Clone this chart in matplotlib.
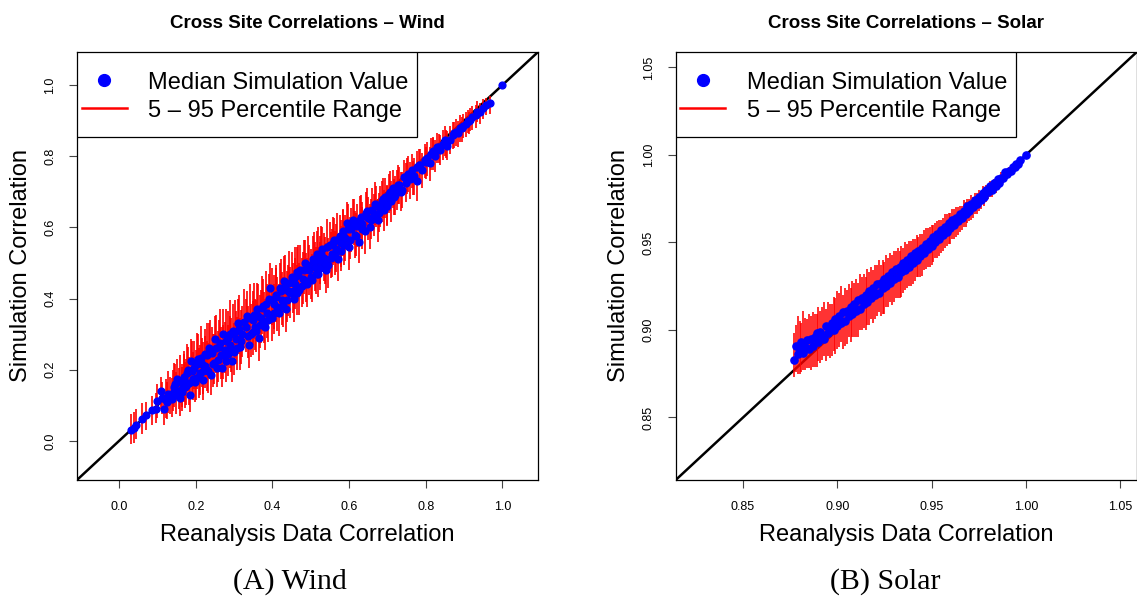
import matplotlib
matplotlib.use('Agg')
from matplotlib import pyplot as plt
from matplotlib.lines import Line2D
from matplotlib.patches import Rectangle

plt.rcParams['font.family'] = ['Liberation Sans', 'DejaVu Sans']

# wind: reanalysis correlation, median of simulations, 5th and 95th percentile
wind_x = [0.030, 0.038, 0.045, 0.060, 0.070, 0.085, 0.095, 0.100, 0.110, 0.112,
          0.118, 0.125, 0.133, 0.140, 0.145, 0.151, 0.155, 0.160, 0.165, 0.170,
          0.175, 0.180, 0.185, 0.188, 0.192, 0.195, 0.198, 0.205, 0.210, 0.216,
          0.220, 0.225, 0.230, 0.235, 0.240, 0.242, 0.248, 0.251, 0.255, 0.260,
          0.265, 0.268, 0.270, 0.275, 0.280, 0.285, 0.290, 0.294, 0.298, 0.300,
          0.305, 0.310, 0.315, 0.320, 0.330, 0.333, 0.338, 0.345, 0.350, 0.355,
          0.360, 0.365, 0.370, 0.375, 0.380, 0.385, 0.390, 0.394, 0.400, 0.405,
          0.410, 0.416, 0.420, 0.425, 0.430, 0.435, 0.440, 0.446, 0.450, 0.455,
          0.460, 0.465, 0.470, 0.473, 0.480, 0.485, 0.490, 0.495, 0.503, 0.505,
          0.510, 0.515, 0.520, 0.525, 0.530, 0.535, 0.540, 0.546, 0.550, 0.555,
          0.560, 0.565, 0.570, 0.575, 0.580, 0.585, 0.590, 0.595, 0.600, 0.605,
          0.610, 0.615, 0.620, 0.625, 0.630, 0.635, 0.642, 0.645, 0.650, 0.655,
          0.660, 0.665, 0.670, 0.675, 0.681, 0.685, 0.690, 0.695, 0.700, 0.705,
          0.710, 0.715, 0.720, 0.725, 0.730, 0.735, 0.742, 0.748, 0.755, 0.760,
          0.765, 0.770, 0.777, 0.777, 0.785, 0.790, 0.797, 0.803, 0.810, 0.815,
          0.820, 0.825, 0.830, 0.838, 0.845, 0.850, 0.855, 0.864, 0.870, 0.878,
          0.885, 0.890, 0.898, 0.905, 0.910, 0.916, 0.922, 0.930, 0.935, 0.942,
          0.950, 0.958, 0.968, 0.998]
wind_med = [0.030, 0.036, 0.044, 0.062, 0.072, 0.088, 0.090, 0.112, 0.140, 0.120,
            0.089, 0.110, 0.126, 0.135, 0.160, 0.173, 0.140, 0.120, 0.147, 0.180,
            0.155, 0.200, 0.130, 0.224, 0.175, 0.206, 0.164, 0.230, 0.190, 0.215,
            0.170, 0.245, 0.200, 0.260, 0.185, 0.248, 0.220, 0.285, 0.205, 0.265,
            0.240, 0.206, 0.300, 0.255, 0.225, 0.290, 0.270, 0.224, 0.310, 0.250,
            0.285, 0.330, 0.265, 0.300, 0.320, 0.350, 0.268, 0.300, 0.340, 0.320,
            0.370, 0.290, 0.345, 0.380, 0.320, 0.360, 0.400, 0.430, 0.345, 0.385,
            0.410, 0.360, 0.430, 0.395, 0.450, 0.370, 0.420, 0.416, 0.460, 0.400,
            0.440, 0.475, 0.425, 0.481, 0.455, 0.500, 0.440, 0.480, 0.453, 0.510,
            0.490, 0.525, 0.470, 0.505, 0.540, 0.515, 0.480, 0.495, 0.550, 0.525,
            0.565, 0.540, 0.510, 0.575, 0.555, 0.590, 0.570, 0.612, 0.545, 0.595,
            0.620, 0.580, 0.605, 0.560, 0.630, 0.610, 0.589, 0.640, 0.625, 0.600,
            0.650, 0.635, 0.660, 0.620, 0.659, 0.675, 0.650, 0.685, 0.665, 0.695,
            0.675, 0.710, 0.690, 0.706, 0.720, 0.700, 0.743, 0.725, 0.750, 0.735,
            0.760, 0.745, 0.771, 0.729, 0.775, 0.760, 0.790, 0.795, 0.780, 0.805,
            0.815, 0.800, 0.825, 0.818, 0.835, 0.845, 0.830, 0.846, 0.860, 0.868,
            0.865, 0.880, 0.885, 0.890, 0.900, 0.902, 0.910, 0.915, 0.925, 0.925,
            0.935, 0.945, 0.949, 1.000]
wind_lo = [-0.010, -0.005, 0.005, 0.020, 0.030, 0.045, 0.050, 0.065, 0.090, 0.075,
           0.045, 0.060, 0.075, 0.085, 0.110, 0.120, 0.090, 0.070, 0.095, 0.120,
           0.100, 0.140, 0.080, 0.160, 0.115, 0.145, 0.110, 0.165, 0.130, 0.150,
           0.115, 0.180, 0.140, 0.195, 0.130, 0.180, 0.160, 0.215, 0.150, 0.200,
           0.175, 0.150, 0.230, 0.190, 0.165, 0.225, 0.205, 0.165, 0.240, 0.185,
           0.215, 0.260, 0.200, 0.235, 0.250, 0.280, 0.205, 0.235, 0.270, 0.255,
           0.300, 0.225, 0.275, 0.310, 0.255, 0.290, 0.330, 0.360, 0.280, 0.315,
           0.340, 0.295, 0.360, 0.325, 0.380, 0.305, 0.350, 0.345, 0.390, 0.335,
           0.370, 0.405, 0.355, 0.410, 0.385, 0.430, 0.375, 0.410, 0.390, 0.445,
           0.420, 0.460, 0.405, 0.440, 0.475, 0.450, 0.415, 0.430, 0.485, 0.460,
           0.500, 0.475, 0.450, 0.510, 0.490, 0.525, 0.505, 0.550, 0.480, 0.530,
           0.560, 0.515, 0.545, 0.500, 0.570, 0.550, 0.525, 0.580, 0.565, 0.540,
           0.590, 0.575, 0.600, 0.560, 0.600, 0.615, 0.590, 0.625, 0.605, 0.640,
           0.615, 0.655, 0.635, 0.650, 0.665, 0.645, 0.690, 0.670, 0.700, 0.680,
           0.710, 0.690, 0.720, 0.675, 0.725, 0.710, 0.740, 0.745, 0.730, 0.760,
           0.770, 0.755, 0.780, 0.775, 0.790, 0.800, 0.790, 0.805, 0.820, 0.830,
           0.825, 0.840, 0.850, 0.855, 0.865, 0.870, 0.875, 0.880, 0.895, 0.890,
           0.905, 0.915, 0.920, 1.000]
wind_hi = [0.075, 0.080, 0.090, 0.105, 0.110, 0.125, 0.135, 0.160, 0.180, 0.165,
           0.140, 0.165, 0.180, 0.200, 0.215, 0.230, 0.205, 0.180, 0.215, 0.245,
           0.230, 0.265, 0.200, 0.285, 0.250, 0.280, 0.235, 0.300, 0.270, 0.290,
           0.240, 0.315, 0.280, 0.330, 0.255, 0.320, 0.300, 0.350, 0.280, 0.340,
           0.320, 0.280, 0.370, 0.335, 0.300, 0.365, 0.350, 0.300, 0.385, 0.330,
           0.365, 0.400, 0.345, 0.380, 0.400, 0.420, 0.345, 0.385, 0.420, 0.400,
           0.445, 0.370, 0.425, 0.455, 0.400, 0.440, 0.470, 0.500, 0.425, 0.465,
           0.485, 0.440, 0.500, 0.475, 0.520, 0.450, 0.495, 0.490, 0.530, 0.480,
           0.515, 0.545, 0.500, 0.550, 0.530, 0.565, 0.515, 0.550, 0.525, 0.575,
           0.560, 0.590, 0.545, 0.575, 0.600, 0.585, 0.555, 0.570, 0.615, 0.595,
           0.625, 0.610, 0.580, 0.635, 0.620, 0.650, 0.635, 0.670, 0.615, 0.655,
           0.680, 0.645, 0.665, 0.625, 0.690, 0.670, 0.650, 0.700, 0.685, 0.665,
           0.710, 0.695, 0.715, 0.680, 0.715, 0.730, 0.705, 0.740, 0.720, 0.750,
           0.730, 0.760, 0.745, 0.760, 0.770, 0.755, 0.790, 0.780, 0.800, 0.785,
           0.805, 0.795, 0.815, 0.780, 0.820, 0.810, 0.835, 0.840, 0.825, 0.850,
           0.855, 0.845, 0.865, 0.860, 0.875, 0.885, 0.870, 0.885, 0.895, 0.905,
           0.900, 0.915, 0.920, 0.925, 0.930, 0.935, 0.940, 0.945, 0.955, 0.950,
           0.960, 0.965, 0.970, 1.000]

# more wind sites in the crowded middle: x, median, distance down / up to the percentiles
wind_x_more = [0.122, 0.128, 0.137, 0.143, 0.148, 0.158, 0.163, 0.168, 0.173, 0.178,
               0.183, 0.190, 0.200, 0.203, 0.208, 0.213, 0.218, 0.223, 0.228, 0.233,
               0.238, 0.245, 0.253, 0.258, 0.263, 0.272, 0.278, 0.283, 0.288, 0.292,
               0.303, 0.308, 0.313, 0.318, 0.325, 0.335, 0.342, 0.348, 0.353, 0.358,
               0.363, 0.368, 0.373, 0.378, 0.383, 0.388, 0.398, 0.403, 0.408, 0.413,
               0.423, 0.428, 0.433, 0.438, 0.443, 0.453, 0.458, 0.463, 0.468, 0.478,
               0.483, 0.488, 0.493, 0.500, 0.508, 0.513, 0.518, 0.523, 0.528, 0.538,
               0.543, 0.553, 0.558, 0.563, 0.568, 0.578, 0.583, 0.588, 0.598, 0.603,
               0.613, 0.618, 0.628, 0.633, 0.648, 0.658, 0.668, 0.678, 0.688, 0.698,
               0.708, 0.718, 0.728, 0.738, 0.752, 0.768, 0.782, 0.800, 0.818, 0.834,
               0.852, 0.874, 0.894, 0.912]
wind_med_more = [0.115, 0.132, 0.118, 0.150, 0.128, 0.165, 0.138, 0.172, 0.150, 0.190,
                 0.162, 0.195, 0.178, 0.215, 0.180, 0.232, 0.196, 0.210, 0.240, 0.195,
                 0.250, 0.215, 0.262, 0.228, 0.275, 0.240, 0.280, 0.245, 0.300, 0.258,
                 0.305, 0.262, 0.315, 0.280, 0.335, 0.295, 0.345, 0.305, 0.355, 0.310,
                 0.350, 0.325, 0.372, 0.335, 0.385, 0.340, 0.395, 0.360, 0.405, 0.375,
                 0.420, 0.380, 0.435, 0.395, 0.445, 0.420, 0.460, 0.415, 0.465, 0.435,
                 0.480, 0.450, 0.495, 0.460, 0.505, 0.470, 0.520, 0.485, 0.525, 0.500,
                 0.545, 0.515, 0.555, 0.520, 0.565, 0.535, 0.580, 0.550, 0.595, 0.565,
                 0.610, 0.575, 0.620, 0.595, 0.645, 0.620, 0.665, 0.640, 0.680, 0.660,
                 0.700, 0.685, 0.720, 0.705, 0.745, 0.740, 0.775, 0.785, 0.810, 0.825,
                 0.840, 0.865, 0.880, 0.900]
wind_down_more = [0.050, 0.055, 0.050, 0.055, 0.052, 0.060, 0.055, 0.062, 0.058, 0.065,
                  0.060, 0.065, 0.062, 0.068, 0.060, 0.070, 0.065, 0.062, 0.070, 0.060,
                  0.072, 0.065, 0.070, 0.062, 0.072, 0.065, 0.070, 0.062, 0.075, 0.065,
                  0.072, 0.062, 0.070, 0.065, 0.075, 0.062, 0.072, 0.065, 0.070, 0.060,
                  0.068, 0.065, 0.072, 0.060, 0.070, 0.062, 0.068, 0.060, 0.070, 0.065,
                  0.068, 0.060, 0.070, 0.062, 0.068, 0.060, 0.070, 0.062, 0.065, 0.060,
                  0.068, 0.060, 0.065, 0.062, 0.065, 0.058, 0.065, 0.060, 0.062, 0.058,
                  0.065, 0.058, 0.062, 0.055, 0.062, 0.058, 0.060, 0.055, 0.060, 0.055,
                  0.060, 0.055, 0.058, 0.055, 0.058, 0.052, 0.058, 0.052, 0.055, 0.052,
                  0.055, 0.050, 0.055, 0.050, 0.052, 0.050, 0.050, 0.048, 0.048, 0.045,
                  0.045, 0.042, 0.040, 0.038]
wind_up_more = [0.060, 0.065, 0.060, 0.070, 0.065, 0.075, 0.070, 0.080, 0.072, 0.082,
                0.075, 0.085, 0.078, 0.088, 0.080, 0.090, 0.082, 0.085, 0.092, 0.080,
                0.090, 0.085, 0.092, 0.082, 0.095, 0.085, 0.090, 0.082, 0.095, 0.088,
                0.092, 0.085, 0.095, 0.088, 0.092, 0.085, 0.095, 0.088, 0.090, 0.085,
                0.092, 0.085, 0.090, 0.082, 0.092, 0.085, 0.090, 0.082, 0.088, 0.085,
                0.090, 0.080, 0.088, 0.082, 0.088, 0.080, 0.085, 0.080, 0.085, 0.078,
                0.085, 0.078, 0.082, 0.078, 0.082, 0.075, 0.080, 0.075, 0.078, 0.072,
                0.078, 0.072, 0.075, 0.070, 0.075, 0.068, 0.072, 0.068, 0.070, 0.065,
                0.070, 0.065, 0.068, 0.062, 0.065, 0.060, 0.062, 0.058, 0.060, 0.055,
                0.058, 0.052, 0.055, 0.050, 0.050, 0.048, 0.045, 0.042, 0.040, 0.038,
                0.035, 0.032, 0.030, 0.025]

# solar: reanalysis correlation, median, distance down / up to the 5th / 95th percentile
solar_x = [0.877, 0.878, 0.879, 0.880, 0.881, 0.882, 0.883, 0.884, 0.885, 0.886,
           0.887, 0.888, 0.889, 0.890, 0.891, 0.892, 0.893, 0.894, 0.895, 0.896,
           0.897, 0.898, 0.899, 0.900, 0.901, 0.902, 0.903, 0.904, 0.905, 0.906,
           0.907, 0.908, 0.909, 0.910, 0.911, 0.912, 0.913, 0.914, 0.915, 0.916,
           0.917, 0.918, 0.919, 0.920, 0.921, 0.922, 0.923, 0.924, 0.925, 0.926,
           0.927, 0.928, 0.929, 0.930, 0.931, 0.932, 0.933, 0.934, 0.935, 0.936,
           0.937, 0.938, 0.939, 0.940, 0.941, 0.942, 0.943, 0.944, 0.945, 0.946,
           0.947, 0.948, 0.949, 0.950, 0.951, 0.952, 0.953, 0.954, 0.955, 0.956,
           0.957, 0.958, 0.959, 0.960, 0.961, 0.962, 0.963, 0.964, 0.965, 0.966,
           0.967, 0.968, 0.969, 0.970, 0.971, 0.972, 0.973, 0.974, 0.975, 0.976,
           0.977, 0.978, 0.979, 0.980, 0.981, 0.982, 0.983, 0.984, 0.985, 0.986,
           0.987, 0.988, 0.989, 0.990, 0.991, 0.992, 0.993, 0.994, 0.995, 0.996,
           0.997, 1.000]
solar_med = [0.883, 0.891, 0.886, 0.889, 0.893, 0.887, 0.890, 0.894, 0.889, 0.895,
             0.891, 0.896, 0.898, 0.893, 0.899, 0.897, 0.895, 0.902, 0.898, 0.901,
             0.904, 0.900, 0.906, 0.902, 0.908, 0.904, 0.910, 0.905, 0.911, 0.908,
             0.913, 0.909, 0.915, 0.911, 0.917, 0.912, 0.918, 0.915, 0.920, 0.916,
             0.922, 0.918, 0.924, 0.920, 0.926, 0.921, 0.927, 0.924, 0.929, 0.925,
             0.931, 0.927, 0.933, 0.929, 0.935, 0.930, 0.936, 0.933, 0.938, 0.934,
             0.940, 0.936, 0.942, 0.938, 0.944, 0.940, 0.945, 0.942, 0.947, 0.944,
             0.949, 0.946, 0.951, 0.948, 0.953, 0.950, 0.955, 0.952, 0.957, 0.954,
             0.959, 0.956, 0.961, 0.958, 0.963, 0.960, 0.964, 0.962, 0.966, 0.964,
             0.968, 0.966, 0.971, 0.968, 0.972, 0.970, 0.974, 0.972, 0.976, 0.974,
             0.978, 0.976, 0.980, 0.979, 0.982, 0.980, 0.984, 0.982, 0.986, 0.984,
             0.987, 0.987, 0.990, 0.989, 0.991, 0.991, 0.993, 0.993, 0.995, 0.995,
             0.997, 1.000]
solar_down = [0.010, 0.015, 0.011, 0.014, 0.017, 0.010, 0.013, 0.016, 0.011, 0.018,
              0.012, 0.017, 0.019, 0.011, 0.018, 0.014, 0.010, 0.020, 0.013, 0.017,
              0.019, 0.012, 0.020, 0.013, 0.018, 0.011, 0.021, 0.014, 0.019, 0.012,
              0.020, 0.013, 0.019, 0.015, 0.021, 0.012, 0.018, 0.014, 0.020, 0.013,
              0.019, 0.012, 0.020, 0.014, 0.018, 0.011, 0.019, 0.015, 0.020, 0.012,
              0.018, 0.011, 0.019, 0.013, 0.017, 0.012, 0.018, 0.014, 0.017, 0.011,
              0.016, 0.011, 0.017, 0.012, 0.016, 0.010, 0.015, 0.012, 0.016, 0.010,
              0.014, 0.010, 0.015, 0.011, 0.014, 0.009, 0.014, 0.010, 0.013, 0.009,
              0.012, 0.008, 0.012, 0.009, 0.011, 0.008, 0.011, 0.008, 0.010, 0.007,
              0.009, 0.007, 0.010, 0.006, 0.009, 0.006, 0.008, 0.006, 0.008, 0.005,
              0.006, 0.005, 0.007, 0.004, 0.006, 0.004, 0.005, 0.004, 0.005, 0.003,
              0.004, 0.003, 0.004, 0.003, 0.003, 0.002, 0.003, 0.002, 0.002, 0.002,
              0.001, 0.000]
solar_up = [0.015, 0.012, 0.022, 0.016, 0.011, 0.024, 0.017, 0.012, 0.020, 0.013,
            0.019, 0.013, 0.011, 0.020, 0.012, 0.016, 0.021, 0.010, 0.018, 0.014,
            0.011, 0.019, 0.012, 0.020, 0.013, 0.021, 0.010, 0.019, 0.012, 0.018,
            0.011, 0.019, 0.012, 0.018, 0.010, 0.020, 0.012, 0.017, 0.010, 0.019,
            0.011, 0.018, 0.010, 0.017, 0.011, 0.019, 0.010, 0.016, 0.010, 0.018,
            0.010, 0.017, 0.010, 0.016, 0.010, 0.017, 0.009, 0.015, 0.009, 0.016,
            0.009, 0.015, 0.009, 0.014, 0.008, 0.014, 0.008, 0.013, 0.008, 0.013,
            0.009, 0.012, 0.008, 0.012, 0.007, 0.011, 0.007, 0.011, 0.006, 0.010,
            0.007, 0.010, 0.006, 0.009, 0.006, 0.009, 0.006, 0.008, 0.005, 0.007,
            0.006, 0.007, 0.004, 0.007, 0.005, 0.006, 0.004, 0.006, 0.004, 0.005,
            0.004, 0.005, 0.003, 0.004, 0.003, 0.004, 0.002, 0.003, 0.002, 0.003,
            0.003, 0.002, 0.002, 0.002, 0.002, 0.001, 0.001, 0.001, 0.001, 0.001,
            0.001, 0.000]

wind_ticks = [0.0, 0.2, 0.4, 0.6, 0.8, 1.0]
solar_ticks = [0.85, 0.90, 0.95, 1.00, 1.05]

wx = wind_x + wind_x_more
wmed = wind_med + wind_med_more
wlo = wind_lo + [m - d for m, d in zip(wind_med_more, wind_down_more)]
whi = wind_hi + [m + u for m, u in zip(wind_med_more, wind_up_more)]
solar_lo = [m - d for m, d in zip(solar_med, solar_down)]
solar_hi = [m + u for m, u in zip(solar_med, solar_up)]


def panel(ax, x, med, lo, hi, lims, ticks, fmt, title, bar_lw, ms):
    ax.axline((0, 0), slope=1, color='black', lw=1.8, zorder=1)
    ax.vlines(x, lo, hi, color='red', lw=bar_lw, zorder=2)
    ax.plot(x, med, 'o', color='blue', ms=ms, mec='blue', zorder=3)
    ax.set_xlim(lims)
    ax.set_ylim(lims)
    ax.set_xticks(ticks)
    ax.set_yticks(ticks)
    ax.set_xticklabels([fmt.format(t) for t in ticks], fontsize=9)
    ax.set_yticklabels([fmt.format(t) for t in ticks], fontsize=9,
                       rotation=90, va='center')
    ax.tick_params(direction='out', length=6, width=0.8, color='#444444', pad=9)
    for s in ax.spines.values():
        s.set_linewidth(0.9)
    ax.set_xlabel('Reanalysis Data Correlation', fontsize=17, labelpad=8)
    ax.set_ylabel('Simulation Correlation', fontsize=17, labelpad=9)
    ax.set_title(title, fontsize=13.5, fontweight='bold', pad=17)
    # white legend box, drawn separately so its inner padding can match
    ax.add_patch(Rectangle((0, 0.8014), 0.7375, 0.1986, transform=ax.transAxes,
                           facecolor='white', edgecolor='black', lw=0.9, zorder=4))
    handles = [Line2D([], [], marker='o', ls='none', color='blue', ms=8.5),
               Line2D([], [], color='red', lw=1.8)]
    ax.legend(handles, ['Median Simulation Value', '5 \u2013 95 Percentile Range'],
              loc='upper left', bbox_to_anchor=(0.0, 0.965), borderaxespad=0,
              fontsize=17, frameon=False, handlelength=1.9, handletextpad=0.9,
              borderpad=0.2, labelspacing=0.25)


fig = plt.figure(figsize=(11.37, 5.99), dpi=100)
ax1 = fig.add_axes([0.0677, 0.1987, 0.4055, 0.7145])
ax2 = fig.add_axes([0.5943, 0.1987, 0.4055, 0.7145])

panel(ax1, wx, wmed, wlo, whi, (-0.11, 1.093), wind_ticks,
      '{:.1f}', 'Cross Site Correlations \u2013 Wind', 1.2, 4.9)
panel(ax2, solar_x, solar_med, solar_lo, solar_hi, (0.8143, 1.0588), solar_ticks,
      '{:.2f}', 'Cross Site Correlations \u2013 Solar', 1.15, 5.2)

fig.text(0.255, 0.029, '(A) Wind', ha='center', va='center', fontsize=21.5,
         family='Liberation Serif')
fig.text(0.779, 0.029, '(B) Solar', ha='center', va='center', fontsize=21.5,
         family='Liberation Serif')

fig.savefig('out.png', dpi=100)
